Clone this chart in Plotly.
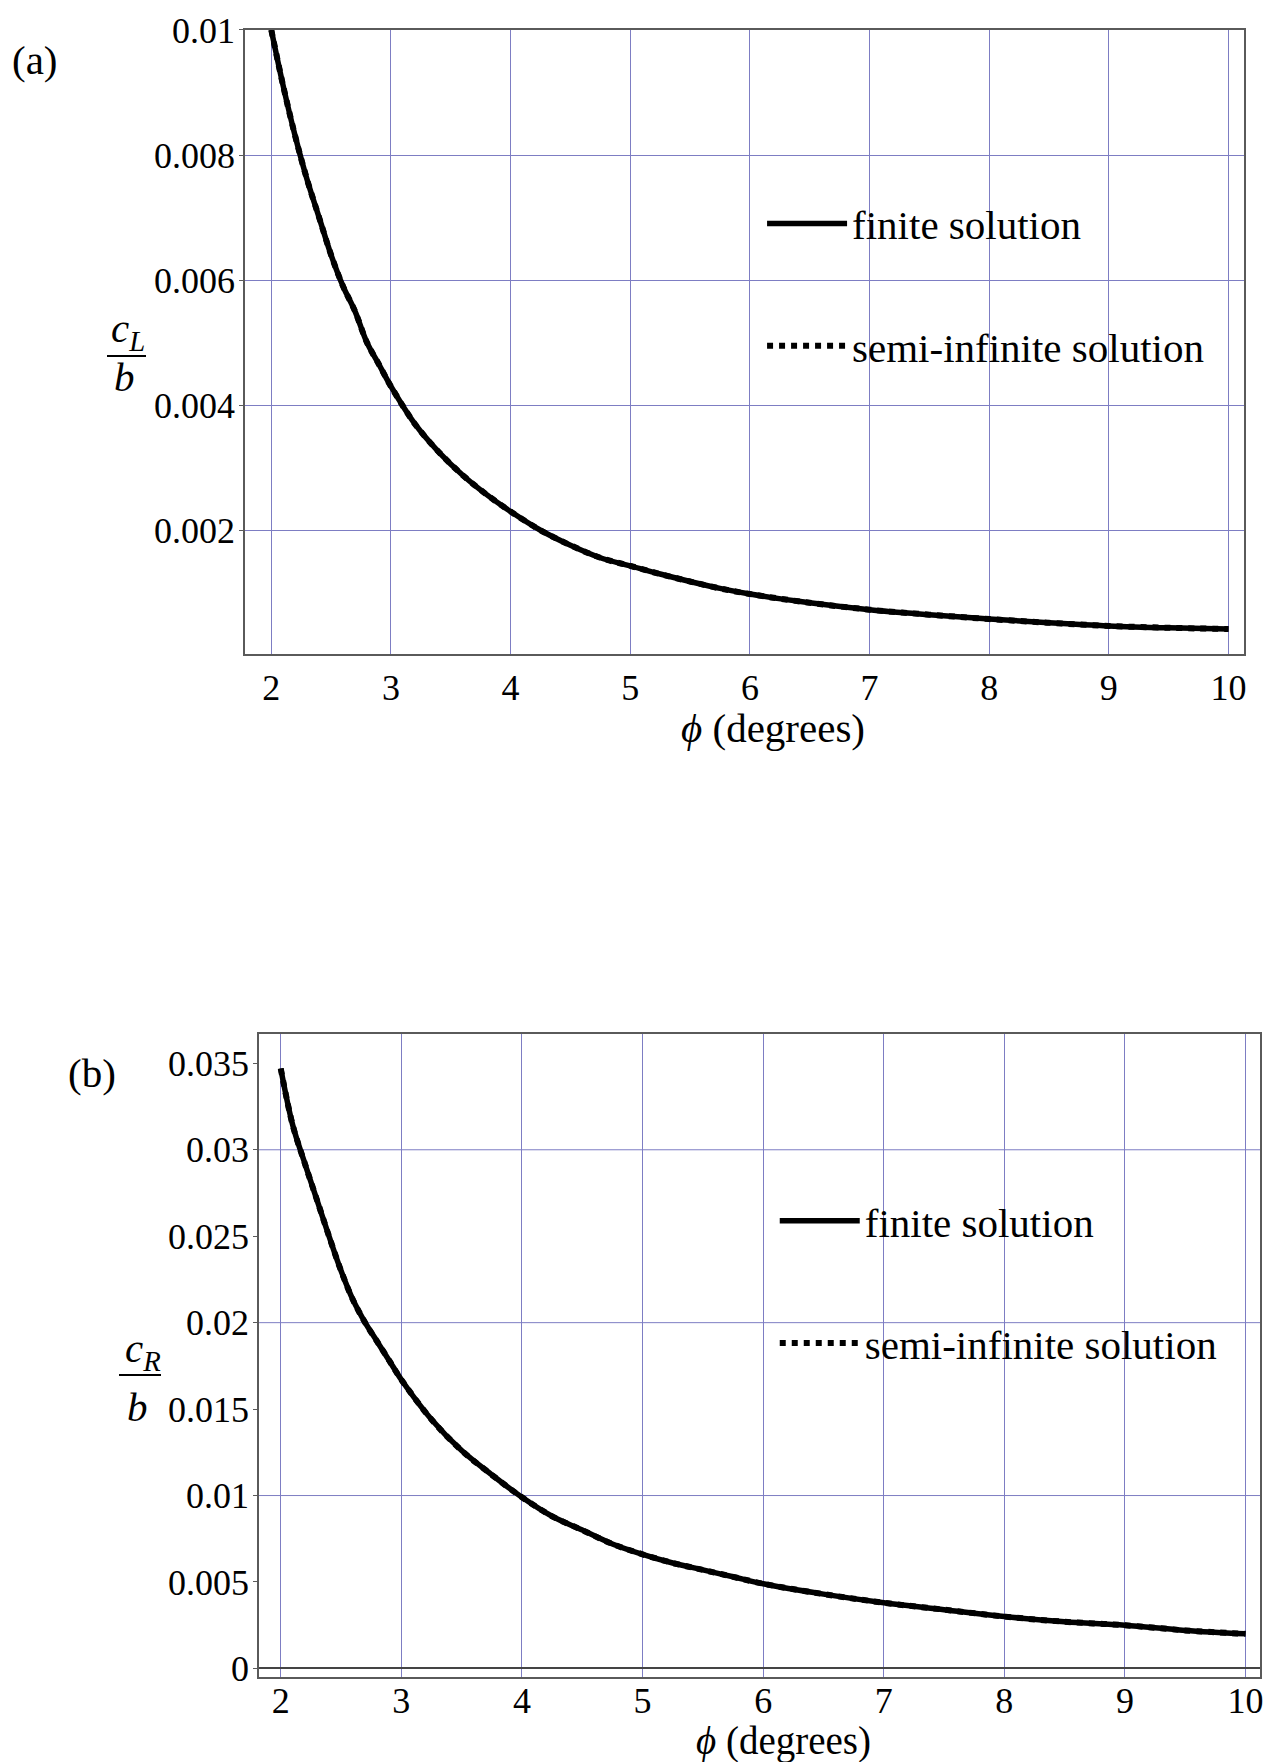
import plotly.graph_objects as go

# ---------------- data ----------------
phi_a = [2.0, 2.1, 2.2, 2.3, 2.4, 2.5, 2.6, 2.7, 2.8, 2.9, 3.0, 3.2, 3.4, 3.6, 3.8,
         4.0, 4.25, 4.5, 4.75, 5.0, 5.25, 5.5, 5.75, 6.0, 6.5, 7.0, 7.5, 8.0, 8.5,
         9.0, 9.5, 10.0]
finite_a = [0.0100, 0.0091, 0.0083, 0.0076, 0.0070, 0.0064, 0.0059, 0.0055, 0.0050,
            0.00465, 0.0043, 0.0037, 0.00325, 0.00288, 0.00257, 0.0023, 0.0020, 0.00176,
            0.00156, 0.00143, 0.00130, 0.00118, 0.00107, 0.00098, 0.00084, 0.00073,
            0.00065, 0.00058, 0.00052, 0.00047, 0.00044, 0.00042]
semi_a = [0.0100, 0.0091, 0.0083, 0.0076, 0.0070, 0.0064, 0.0059, 0.0055, 0.0050,
          0.00465, 0.0043, 0.0037, 0.00325, 0.00288, 0.00257, 0.0023, 0.0020, 0.00176,
          0.00156, 0.00143, 0.00130, 0.00118, 0.00107, 0.00098, 0.00084, 0.00073,
          0.00065, 0.00058, 0.00052, 0.00047, 0.00044, 0.00042]

phi_b = [2.0, 2.1, 2.2, 2.3, 2.4, 2.5, 2.6, 2.7, 2.8, 2.9, 3.0, 3.25, 3.5, 3.75, 4.0,
         4.25, 4.5, 4.75, 5.0, 5.25, 5.5, 5.75, 6.0, 6.5, 7.0, 7.5, 8.0, 8.5, 9.0,
         9.5, 10.0]
finite_b = [0.0347, 0.0314, 0.0292, 0.0271, 0.0250, 0.0230, 0.0213, 0.0200, 0.0189,
            0.0178, 0.0167, 0.0144, 0.0126, 0.0112, 0.0099, 0.0088, 0.0080, 0.0072,
            0.0066, 0.0061, 0.0057, 0.0053, 0.0049, 0.0043, 0.0038, 0.0034, 0.0030,
            0.0027, 0.0025, 0.0022, 0.0020]
semi_b = [0.0347, 0.0314, 0.0292, 0.0271, 0.0250, 0.0230, 0.0213, 0.0200, 0.0189,
          0.0178, 0.0167, 0.0144, 0.0126, 0.0112, 0.0099, 0.0088, 0.0080, 0.0072,
          0.0066, 0.0061, 0.0057, 0.0053, 0.0049, 0.0043, 0.0038, 0.0034, 0.0030,
          0.0027, 0.0025, 0.0022, 0.0020]

x_ticks = [2, 3, 4, 5, 6, 7, 8, 9, 10]
x_tick_labels = ["2", "3", "4", "5", "6", "7", "8", "9", "10"]
y_ticks_a = [0.002, 0.004, 0.006, 0.008, 0.01]
y_tick_labels_a = ["0.002", "0.004", "0.006", "0.008", "0.01"]
y_ticks_b = [0, 0.005, 0.01, 0.015, 0.02, 0.025, 0.03, 0.035]
y_tick_labels_b = ["0", "0.005", "0.01", "0.015", "0.02", "0.025", "0.03", "0.035"]
y_grid_b = [0.01, 0.02, 0.03]

names = ["finite solution", "semi-infinite solution"]

# ---------------- style ----------------
FONT = "Liberation Serif, Times New Roman, serif"
FS = 36      # tick labels
FT = 41      # other texts
GRID = "rgb(125,125,195)"
FRAME = "#5a5a5a"

fig = go.Figure()

solid = dict(color="black", width=5.5)
dotted = dict(color="black", width=6, dash="6px,6px")

fig.add_trace(go.Scatter(x=phi_a, y=finite_a, mode="lines", name=names[0], line=solid,
                         line_shape="spline", legendgroup="a1", legend="legend",
                         xaxis="x", yaxis="y"))
fig.add_trace(go.Scatter(x=phi_a, y=semi_a, mode="lines", name=names[1], line=dotted,
                         line_shape="spline", legendgroup="a2", legend="legend",
                         xaxis="x", yaxis="y"))
fig.add_trace(go.Scatter(x=phi_b, y=finite_b, mode="lines", name=names[0], line=solid,
                         line_shape="spline", legendgroup="b1", legend="legend2",
                         xaxis="x2", yaxis="y2"))
fig.add_trace(go.Scatter(x=phi_b, y=semi_b, mode="lines", name=names[1], line=dotted,
                         line_shape="spline", legendgroup="b2", legend="legend2",
                         xaxis="x2", yaxis="y2"))

axis_common = dict(showline=True, mirror=True, linecolor=FRAME, linewidth=1.5,
                   gridcolor=GRID, gridwidth=1,
                   tickfont=dict(family=FONT, size=FS, color="black"),
                   tickmode="array", automargin=False)

fig.update_layout(
    width=1268, height=1762,
    margin=dict(l=0, r=0, t=0, b=0),
    paper_bgcolor="white", plot_bgcolor="white",
    font=dict(family=FONT, size=FS, color="black"),
    xaxis=dict(domain=[0.1932, 0.9811], anchor="y", range=[1.78, 10.13],
               tickvals=x_ticks, ticktext=x_tick_labels, showgrid=True, zeroline=False,
               ticks="", ticklabelstandoff=1, **axis_common),
    yaxis=dict(domain=[0.6288, 0.983], anchor="x", range=[0.00002, 0.01],
               tickvals=y_ticks_a, ticktext=y_tick_labels_a, showgrid=True, zeroline=False,
               ticks="outside", ticklen=4, tickcolor=FRAME, ticklabelstandoff=-3,
               **axis_common),
    xaxis2=dict(domain=[0.2043, 0.9937], anchor="y2", range=[1.82, 10.12],
                tickvals=x_ticks, ticktext=x_tick_labels, showgrid=True, zeroline=False,
                ticks="", ticklabelstandoff=-9, **axis_common),
    yaxis2=dict(domain=[0.0482, 0.4132], anchor="x2", range=[-0.0005, 0.0367],
                tickvals=y_ticks_b, ticktext=y_tick_labels_b, showgrid=False,
                ticks="outside", ticklen=4, tickcolor=FRAME, ticklabelstandoff=-3,
                zeroline=True, zerolinecolor="#444444", zerolinewidth=1.5,
                **axis_common),
    legend=dict(x=0.601, y=0.892, xanchor="left", yanchor="top",
                bgcolor="rgba(0,0,0,0)", tracegroupgap=66,
                font=dict(family=FONT, size=FT, color="black"),
                itemwidth=80),
    legend2=dict(x=0.611, y=0.326, xanchor="left", yanchor="top",
                 bgcolor="rgba(0,0,0,0)", tracegroupgap=66,
                 font=dict(family=FONT, size=FT, color="black"),
                 itemwidth=80),
    showlegend=True,
)

# horizontal grid lines of panel (b) every 0.01
for g in y_grid_b:
    fig.add_shape(type="line", xref="x2 domain", yref="y2", x0=0, x1=1, y0=g, y1=g,
                  line=dict(color=GRID, width=1), layer="below")

ann = []
def add_text(text, x, y, size=FT, xanchor="center"):
    ann.append(dict(text=text, x=x, y=y, xref="paper", yref="paper", showarrow=False,
                    xanchor=xanchor, yanchor="middle",
                    font=dict(family=FONT, size=size, color="black")))

H, W = 1762.0, 1268.0
add_text("(a)", 35 / W, 1 - 60 / H)
add_text("(b)", 92 / W, 1 - 1073 / H)
add_text("<i>ϕ</i> (degrees)", 773 / W, 1 - 728 / H)
add_text("<i>ϕ</i> (degrees)", 783 / W, 1 - 1741 / H, size=39)
# fraction labels c_L / b, c_R / b
add_text("<i>c</i><sub><i>L</i></sub>", 128 / W, 1 - 331 / H)
add_text("<i>b</i>", 124 / W, 1 - 377 / H)
add_text("<i>c</i><sub><i>R</i></sub>", 143 / W, 1 - 1351 / H)
add_text("<i>b</i>", 137 / W, 1 - 1407 / H)
fig.update_layout(annotations=ann)

fig.add_shape(type="line", xref="paper", yref="paper", x0=107 / W, x1=146 / W,
              y0=1 - 356 / H, y1=1 - 356 / H, line=dict(color="black", width=2))
fig.add_shape(type="line", xref="paper", yref="paper", x0=119 / W, x1=161 / W,
              y0=1 - 1375 / H, y1=1 - 1375 / H, line=dict(color="black", width=2))

fig.write_html(
    "out.html",
    config={"displayModeBar": False},
    post_script="document.body.style.margin='0';document.body.style.overflow='hidden';",
)
